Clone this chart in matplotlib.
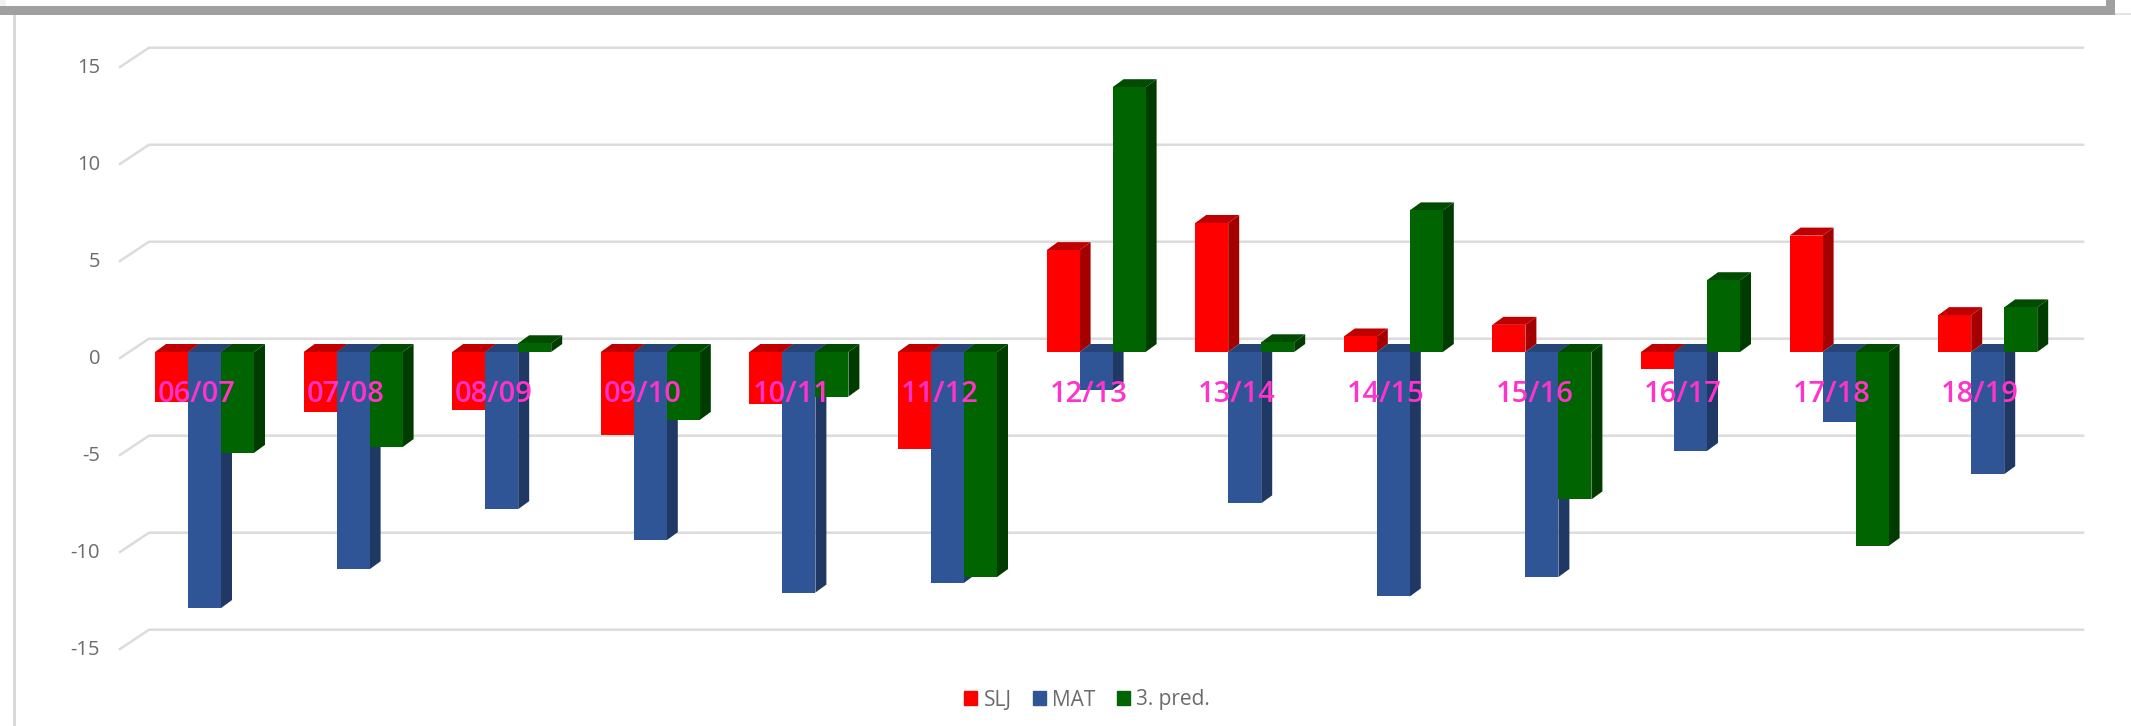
import matplotlib
matplotlib.use('Agg')
import matplotlib.pyplot as plt
from matplotlib.patches import Polygon, Rectangle

seasons = ['06/07', '07/08', '08/09', '09/10', '10/11', '11/12', '12/13',
           '13/14', '14/15', '15/16', '16/17', '17/18', '18/19']
slj = [-2.6, -3.1, -3.0, -4.3, -2.7, -5.0, 5.25, 6.65, 0.8, 1.4, -0.9, 6.0, 1.9]
mat = [-13.2, -11.2, -8.1, -9.7, -12.4, -11.9, -1.95, -7.8, -12.6, -11.6, -5.1, -3.6, -6.3]
pred = [-5.2, -4.9, 0.45, -3.5, -2.3, -11.6, 13.65, 0.5, 7.3, -7.6, 3.7, -10.0, 2.3]
y_ticks = [15, 10, 5, 0, -5, -10, -15]

W, H = 2131, 726
PX_GROUP = 148.6   # pixels per category
PX_UNIT = 19.4     # pixels per y unit
X0_PX = 155        # left edge of first bar
Y0_PX = 352        # bar zero line
BAR = 33 / PX_GROUP
DX = 11 / PX_GROUP  # depth of a bar
DY = 8 / PX_UNIT

plt.rcParams['font.family'] = ['Open Sans', 'DejaVu Sans']
fig = plt.figure(figsize=(W / 100, H / 100), dpi=100)
ax = fig.add_axes([0, 0, 1, 1])
ax.set_xlim(-X0_PX / PX_GROUP, (W - X0_PX) / PX_GROUP)
ax.set_ylim((Y0_PX - H) / PX_UNIT, Y0_PX / PX_UNIT)
ax.axis('off')

# window frame, in axes fractions
frame = ax.transAxes
ax.add_patch(Rectangle((0, 1 - 15 / H), 2115 / W, 9 / H, transform=frame, color='#A0A0A0', lw=0))
ax.add_patch(Rectangle((2106 / W, 1 - 15 / H), 9 / W, 15 / H, transform=frame, color='#A0A0A0', lw=0))
ax.add_patch(Rectangle((13 / W, 0), 3 / W, 1 - 15 / H, transform=frame, color='#D9D9D9', lw=0))
ax.add_patch(Rectangle((2115 / W, 1 - 15 / H), 16 / W, 2 / H, transform=frame, color='#E3E3E3', lw=0))
ax.add_patch(Rectangle((0, 1 - 6 / H), 6 / W, 6 / H, transform=frame, color='#F2F2F2', lw=0))

# grid on back wall with slanted floor part
wall_x0 = (149 - X0_PX) / PX_GROUP
wall_x1 = (2083 - X0_PX) / PX_GROUP
front_x = (120 - X0_PX) / PX_GROUP
back_dy = 13.3 / PX_UNIT
front_dy = -6 / PX_UNIT
for v in y_ticks:
    ax.plot([front_x, wall_x0, wall_x1], [v + front_dy, v + back_dy, v + back_dy],
            color='#DCDCDC', lw=1.8, solid_joinstyle='miter', zorder=1)
    ax.text((100 - X0_PX) / PX_GROUP, v + front_dy - 1 / PX_UNIT, str(v), ha='right', va='center',
            color='#6B6B6B', fontsize=14.5, zorder=5)


def draw_bar(x, v, front, top, side, z):
    hi = max(v, 0)
    lo = min(v, 0)
    ax.add_patch(Polygon([(x + BAR, lo), (x + BAR + DX, lo + DY),
                          (x + BAR + DX, hi + DY), (x + BAR, hi)],
                         facecolor=side, edgecolor='none', zorder=z))
    ax.add_patch(Polygon([(x, hi), (x + DX, hi + DY), (x + BAR + DX, hi + DY), (x + BAR, hi)],
                         facecolor=top, edgecolor='none', zorder=z))
    ax.bar(x, v, width=BAR, align='edge', color=front, linewidth=0, zorder=z)


series = [(slj, '#FF0000', '#C00000', '#A50000'),
          (mat, '#2F5597', '#264478', '#1F3864'),
          (pred, '#006400', '#004B00', '#003C00')]
for i in range(len(seasons)):
    for k, (vals, front, top, side) in enumerate(series):
        draw_bar(i + k * BAR, vals[i], front, top, side, 2 + k)
    ax.text(i + 1.27 * BAR, (Y0_PX - 395) / PX_UNIT, seasons[i], ha='center', va='center',
            color='#FF33CC', fontsize=21, fontweight='semibold', zorder=6)

handles = [Rectangle((0, 0), 1, 1, color=c) for c in ('#FF0000', '#2F5597', '#006400')]
ax.legend(handles, ['SLJ', 'MAT', '3. pred.'], loc='center', ncol=3, frameon=False,
          bbox_to_anchor=(1087 / W, 1 - 700 / H), fontsize=15, labelcolor='#6B6B6B',
          handlelength=0.65, handleheight=0.65, handletextpad=0.3, columnspacing=1.0)

fig.savefig('out.png', dpi=100)
